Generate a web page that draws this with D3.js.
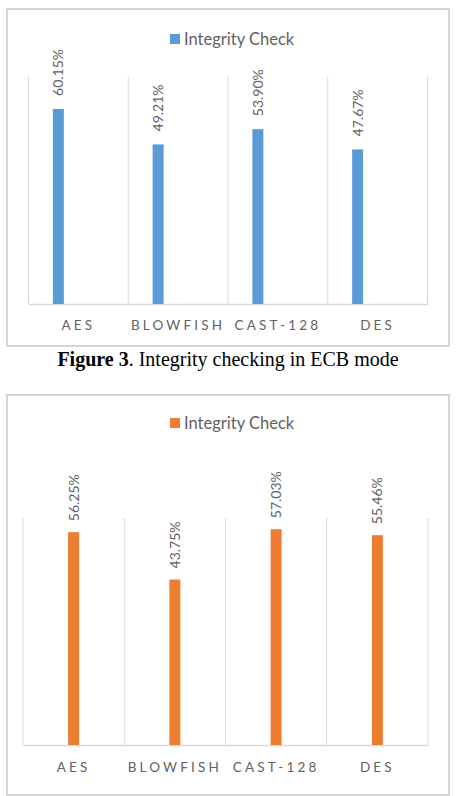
<!DOCTYPE html>
<html>
<head>
<meta charset="utf-8">
<script src="https://cdn.jsdelivr.net/npm/d3@7"></script>
<style>
  html, body { margin: 0; padding: 0; background: #fff; }
  svg { display: block; }
</style>
</head>
<body>
<svg id="fig" width="456" height="796"></svg>
<script>
// ---- data ----
const categories = ["AES", "BLOWFISH", "CAST-128", "DES"];
const seriesName = "Integrity Check";
const ecbValues = [60.15, 49.21, 53.90, 47.67];
const secondValues = [56.25, 43.75, 57.03, 55.46];
const ecbYMax = 70;
const secondYMax = 60;
const captionBold = "Figure 3";
const captionRest = ". Integrity checking in ECB mode";

const svg = d3.select("#fig");
svg.append("rect").attr("width", 456).attr("height", 796).attr("fill", "#fff");

const labelFont = "Lato, 'Open Sans', sans-serif";
const gray = "#626262";
const gridColor = "#d9d9d9";

function drawChart(opt) {
  const g = svg.append("g");
  // frame
  g.append("rect")
    .attr("x", opt.frame[0]).attr("y", opt.frame[1])
    .attr("width", opt.frame[2]).attr("height", opt.frame[3])
    .attr("fill", "#fff").attr("stroke", "#d6d6d6").attr("stroke-width", 2);

  const x = d3.scaleBand().domain(categories).range([opt.left, opt.right]).padding(0);
  const slot = d3.scaleBand().domain(opt.slots).range(opt.slotRange).padding(0);
  const y = d3.scaleLinear().domain([0, opt.yMax]).range([opt.bottom, opt.top]);

  // vertical gridlines at category boundaries
  const bounds = categories.map(c => x(c)).concat([x.range()[1]]);
  g.selectAll(".vgrid").data(bounds).join("line")
    .attr("x1", d => d).attr("x2", d => d)
    .attr("y1", y(opt.yMax)).attr("y2", y(0))
    .attr("stroke", gridColor).attr("stroke-width", 1);

  // bottom axis
  const axis = d3.axisBottom(x).tickSize(0).tickPadding(0);
  const ax = g.append("g").attr("transform", `translate(0,${y(0)})`).call(axis);
  ax.select(".domain").attr("stroke", gridColor).attr("stroke-width", 1.5);
  ax.selectAll(".tick text")
    .attr("y", opt.catDy)
    .attr("dy", "0.35em")
    .attr("fill", gray)
    .style("font-family", labelFont)
    .style("font-size", "13.5px")
    .style("letter-spacing", "3.2px");

  const barW = opt.barWidth;
  const data = categories.map((c, i) => ({ c, v: opt.values[i] }));
  const cx = d => x(d.c) + x.bandwidth() / 2 + slot(opt.slots[0]) + slot.bandwidth() / 2;

  g.selectAll(".bar").data(data).join("rect")
    .attr("x", d => cx(d) - barW / 2)
    .attr("width", barW)
    .attr("y", d => y(d.v))
    .attr("height", d => y(0) - y(d.v))
    .attr("fill", opt.color);

  // rotated data labels
  g.selectAll(".lbl").data(data).join("text")
    .attr("transform", d => `translate(${cx(d)},${y(d.v) - opt.labelGap}) rotate(-90)`)
    .attr("dy", "0.36em")
    .attr("text-anchor", "start")
    .attr("fill", gray)
    .style("font-family", labelFont)
    .style("font-size", "14px")
    .text(d => d.v.toFixed(2) + "%");

  // legend
  const lg = g.append("g").attr("transform", `translate(${opt.legendX},${opt.legendY})`);
  lg.append("rect").attr("x", 0).attr("y", -5).attr("width", 10).attr("height", 10).attr("fill", opt.color);
  lg.append("text").attr("x", 14).attr("y", 0).attr("dy", "0.35em")
    .attr("fill", gray)
    .style("font-family", labelFont)
    .style("font-size", "16.5px")
    .text(seriesName);
}

drawChart({
  values: ecbValues, yMax: ecbYMax, color: "#5b9bd5",
  frame: [7, 9, 442, 337],
  left: 28.5, right: 427.5, top: 77, bottom: 304,
  slots: ["s1", "s2"], slotRange: [-40, 40],
  barWidth: 11, labelGap: 13, catDy: 21,
  legendX: 170, legendY: 39
});

drawChart({
  values: secondValues, yMax: secondYMax, color: "#ed7d31",
  frame: [7, 395, 442, 400],
  left: 23, right: 428, top: 518, bottom: 745,
  slots: ["s1"], slotRange: [-5.5, 5.5],
  barWidth: 11, labelGap: 11, catDy: 22,
  legendX: 170, legendY: 423
});

// caption
const cap = svg.append("text")
  .attr("x", 228).attr("y", 366)
  .attr("text-anchor", "middle")
  .style("font-family", "'Liberation Serif', 'Times New Roman', serif")
  .style("font-size", "20px")
  .attr("fill", "#000");
cap.append("tspan").attr("font-weight", "bold").text(captionBold);
cap.append("tspan").text(captionRest);
</script>
</body>
</html>
